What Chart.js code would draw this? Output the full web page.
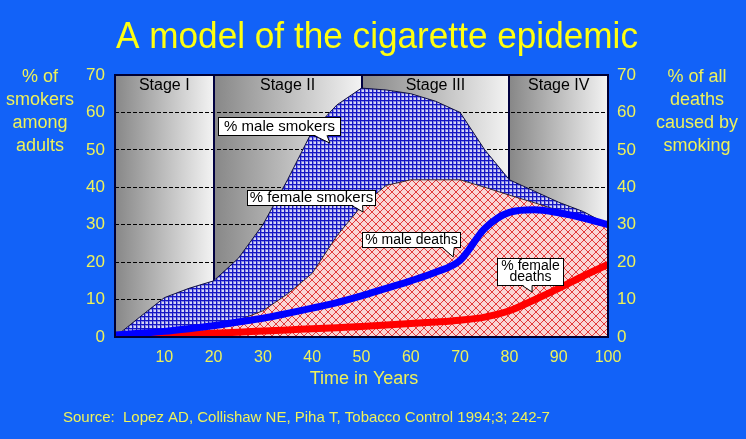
<!DOCTYPE html>
<html>
<head>
<meta charset="utf-8">
<script src="https://cdn.jsdelivr.net/npm/chart.js@4.4.0/dist/chart.umd.min.js"></script>
<style>
  html, body { margin: 0; padding: 0; background: #1262f8; }
  #wrap { width: 746px; height: 439px; }
</style>
</head>
<body>
<div id="wrap"><canvas id="epidemicChart" width="746" height="439"></canvas></div>
<script>
// values, every 5 years
const years = [0, 5, 10, 15, 20, 25, 30, 35, 40, 45, 50, 55, 60, 65, 70, 75, 80, 85, 90, 95, 100];
const maleSmokers = [0, 5.3, 10.5, 13, 15, 21, 30, 42, 55, 62, 66.5, 66, 65, 63, 60, 50, 42, 39, 36, 33.5, 30];
const femaleSmokers = [0, 0.5, 1, 2, 3, 4.5, 7, 11.5, 17, 27, 35, 40.5, 42, 42, 42, 40, 37.9, 35.9, 33.8, 32, 30.2];
const maleDeaths = [0.5, 1, 1.5, 2.2, 3, 4, 5, 6.3, 7.7, 9.2, 11, 13, 15, 17.3, 20.5, 29, 33.3, 34, 33.2, 31.8, 30];
const femaleDeaths = [0, 0.2, 0.4, 0.7, 1, 1.3, 1.6, 1.9, 2.2, 2.5, 2.8, 3.2, 3.6, 4, 4.5, 5.3, 7, 9.9, 13, 16.3, 19.4];
const yTicks = [0, 10, 20, 30, 40, 50, 60, 70];
const xTicks = [10, 20, 30, 40, 50, 60, 70, 80, 90, 100];
const stageNames = ['Stage I', 'Stage II', 'Stage III', 'Stage IV'];
const stageBounds = [0, 20, 50, 80, 100];

const FONT = '"Liberation Sans", Arial, Helvetica, sans-serif';
const YELLOW = '#eef25a';

// callouts in data units (years / percent)
const callouts = [
  { lines: ['% male smokers'], size: 15, x0: 20.9, x1: 45.6, top: 58.8, bottom: 54, b0: 40.3, b1: 43, tipX: 43.6, tipY: 51.8 },
  { lines: ['% female smokers'], size: 15, x0: 26.8, x1: 52.7, top: 39.3, bottom: 35.3, b0: 48, b1: 50.2, tipX: 50.3, tipY: 33.4 },
  { lines: ['% male deaths'], size: 14, x0: 50.1, x1: 70, top: 28, bottom: 24, b0: 66.4, b1: 68.8, tipX: 68.6, tipY: 21.4 },
  { lines: ['% female', 'deaths'], size: 14, x0: 77.5, x1: 90.9, top: 21.1, bottom: 13.9, b0: 82.6, b1: 84.6, tipX: 84.6, tipY: 12 }
];

const canvas = document.getElementById('epidemicChart');
const ctx = canvas.getContext('2d');

function bluePattern() {
  const c = document.createElement('canvas');
  c.width = 4; c.height = 4;
  const g = c.getContext('2d');
  g.fillStyle = '#d6d6f6';
  g.fillRect(0, 0, 4, 4);
  g.fillStyle = '#8888e4';
  g.fillRect(0, 0, 4, 2);
  g.fillRect(0, 0, 2, 4);
  g.fillStyle = '#1616c4';
  g.fillRect(0, 0, 4, 1);
  g.fillRect(0, 0, 1, 4);
  return ctx.createPattern(c, 'repeat');
}

function pinkPattern() {
  const c = document.createElement('canvas');
  c.width = 8; c.height = 8;
  const g = c.getContext('2d');
  g.fillStyle = '#f9d6d6';
  g.fillRect(0, 0, 8, 8);
  g.fillStyle = '#e23a3a';
  for (let i = 0; i < 8; i++) {
    g.fillRect(i, i, 1, 1);
    g.fillRect(7 - i, i, 1, 1);
  }
  return ctx.createPattern(c, 'repeat');
}

function pts(arr) {
  return years.map((yr, i) => ({ x: yr, y: arr[i] }));
}

const stagePlugin = {
  id: 'stages',
  beforeDraw(chart) {
    const { ctx, chartArea: a, scales } = chart;
    ctx.save();
    for (let i = 0; i < stageNames.length; i++) {
      const l = scales.x.getPixelForValue(stageBounds[i]);
      const r = scales.x.getPixelForValue(stageBounds[i + 1]);
      const grad = ctx.createLinearGradient(l, 0, r, 0);
      grad.addColorStop(0, '#878787');
      grad.addColorStop(1, '#f3f3f3');
      ctx.fillStyle = grad;
      ctx.fillRect(l, a.top, r - l, a.bottom - a.top);
    }
    ctx.restore();
  },
  beforeDatasetsDraw(chart) {
    const { ctx, chartArea: a, scales } = chart;
    ctx.save();
    ctx.strokeStyle = '#000040';
    ctx.lineWidth = 2;
    for (let i = 1; i < stageBounds.length - 1; i++) {
      const x = Math.round(scales.x.getPixelForValue(stageBounds[i]));
      ctx.beginPath();
      ctx.moveTo(x, a.top);
      ctx.lineTo(x, a.bottom);
      ctx.stroke();
    }
    ctx.fillStyle = '#000000';
    ctx.font = '16px ' + FONT;
    ctx.textAlign = 'center';
    ctx.textBaseline = 'middle';
    for (let i = 0; i < stageNames.length; i++) {
      const mid = scales.x.getPixelForValue((stageBounds[i] + stageBounds[i + 1]) / 2);
      ctx.fillText(stageNames[i], mid, a.top + 11);
    }
    ctx.restore();
  },
  afterDatasetsDraw(chart) {
    const { ctx, chartArea: a, scales } = chart;
    const sx = scales.x, sy = scales.y;
    ctx.save();
    ctx.strokeStyle = '#000033';
    ctx.lineWidth = 2;
    ctx.strokeRect(a.left, a.top, a.right - a.left, a.bottom - a.top);

    ctx.lineWidth = 1;
    ctx.textAlign = 'center';
    ctx.textBaseline = 'middle';
    callouts.forEach(c => {
      const l = Math.round(sx.getPixelForValue(c.x0)) + 0.5;
      const r = Math.round(sx.getPixelForValue(c.x1)) + 0.5;
      const t = Math.round(sy.getPixelForValue(c.top)) + 0.5;
      const b = Math.round(sy.getPixelForValue(c.bottom)) + 0.5;
      const p0 = sx.getPixelForValue(c.b0), p1 = sx.getPixelForValue(c.b1);
      const tx = sx.getPixelForValue(c.tipX), ty = sy.getPixelForValue(c.tipY);
      ctx.fillStyle = '#ffffff';
      ctx.strokeStyle = '#000000';
      ctx.fillRect(l, t, r - l, b - t);
      ctx.strokeRect(l, t, r - l, b - t);
      ctx.beginPath();
      ctx.moveTo(p0, b - 1);
      ctx.lineTo(tx, ty);
      ctx.lineTo(p1, b - 1);
      ctx.closePath();
      ctx.fill();
      ctx.beginPath();
      ctx.moveTo(p0, b);
      ctx.lineTo(tx, ty);
      ctx.lineTo(p1, b);
      ctx.stroke();
      ctx.fillStyle = '#000000';
      ctx.font = c.size + 'px ' + FONT;
      const cx = (l + r) / 2, cy = (t + b) / 2;
      const lh = 11;
      c.lines.forEach((txt, i) => {
        ctx.fillText(txt, cx, cy + (i - (c.lines.length - 1) / 2) * lh);
      });
    });
    ctx.restore();
  },
  afterDraw(chart) {
    const { ctx } = chart;
    ctx.save();
    ctx.textAlign = 'center';
    ctx.textBaseline = 'alphabetic';
    ctx.fillStyle = '#ffff10';
    ctx.font = '36px ' + FONT;
    ctx.fillText('A model of the cigarette epidemic', 377, 48, 522);

    ctx.fillStyle = YELLOW;
    ctx.font = '18px ' + FONT;
    ctx.textBaseline = 'middle';
    ['% of', 'smokers', 'among', 'adults'].forEach((s, i) => ctx.fillText(s, 40, 77 + i * 23));
    ['% of all', 'deaths', 'caused by', 'smoking'].forEach((s, i) => ctx.fillText(s, 697, 77 + i * 23));
    ctx.fillText('Time in Years', 364, 379);

    ctx.textAlign = 'left';
    ctx.font = '15px ' + FONT;
    ctx.fillText('Source:  Lopez AD, Collishaw NE, Piha T, Tobacco Control 1994;3; 242-7', 63, 418, 527);
    ctx.restore();
  }
};

Chart.defaults.font.family = FONT;

new Chart(ctx, {
  type: 'line',
  data: {
    datasets: [
      {
        label: '% male smokers',
        data: pts(maleSmokers),
        borderColor: '#101040',
        borderWidth: 1,
        backgroundColor: bluePattern(),
        fill: 'origin',
        pointRadius: 0,
        tension: 0,
        order: 4,
        yAxisID: 'y'
      },
      {
        label: '% female smokers',
        data: pts(femaleSmokers),
        borderColor: '#3a2a2a',
        borderWidth: 1,
        backgroundColor: pinkPattern(),
        fill: 'origin',
        pointRadius: 0,
        tension: 0,
        order: 3,
        yAxisID: 'y'
      },
      {
        label: '% female deaths',
        data: pts(femaleDeaths),
        borderColor: '#ff0000',
        borderWidth: 7,
        fill: false,
        pointRadius: 0,
        cubicInterpolationMode: 'monotone',
        clip: 0,
        order: 2,
        yAxisID: 'y2'
      },
      {
        label: '% male deaths',
        data: pts(maleDeaths),
        borderColor: '#0000ff',
        borderWidth: 7,
        fill: false,
        pointRadius: 0,
        cubicInterpolationMode: 'monotone',
        clip: 0,
        order: 1,
        yAxisID: 'y2'
      }
    ]
  },
  options: {
    responsive: false,
    animation: false,
    devicePixelRatio: 1,
    layout: { padding: { top: 75, left: 0, right: 0, bottom: 0 } },
    plugins: {
      legend: { display: false },
      tooltip: { enabled: false },
      title: { display: false }
    },
    scales: {
      x: {
        type: 'linear',
        min: 0,
        max: 100,
        afterFit(scale) { scale.height = 102; },
        afterBuildTicks(scale) { scale.ticks = xTicks.map(v => ({ value: v })); },
        grid: { display: false },
        border: { display: false },
        ticks: { color: YELLOW, font: { size: 16 }, padding: 3, maxRotation: 0 }
      },
      y: {
        position: 'left',
        min: 0,
        max: 70,
        afterFit(scale) { scale.width = 115; },
        afterBuildTicks(scale) { scale.ticks = yTicks.map(v => ({ value: v })); },
        grid: { color: '#000000', lineWidth: 1, drawTicks: false },
        border: { display: false, dash: [4, 2] },
        ticks: { color: YELLOW, font: { size: 17 }, padding: 10 }
      },
      y2: {
        position: 'right',
        min: 0,
        max: 70,
        afterFit(scale) { scale.width = 138; },
        afterBuildTicks(scale) { scale.ticks = yTicks.map(v => ({ value: v })); },
        grid: { drawOnChartArea: false, drawTicks: false },
        border: { display: false },
        ticks: { color: YELLOW, font: { size: 17 }, padding: 9 }
      }
    }
  },
  plugins: [stagePlugin]
});
</script>
</body>
</html>
